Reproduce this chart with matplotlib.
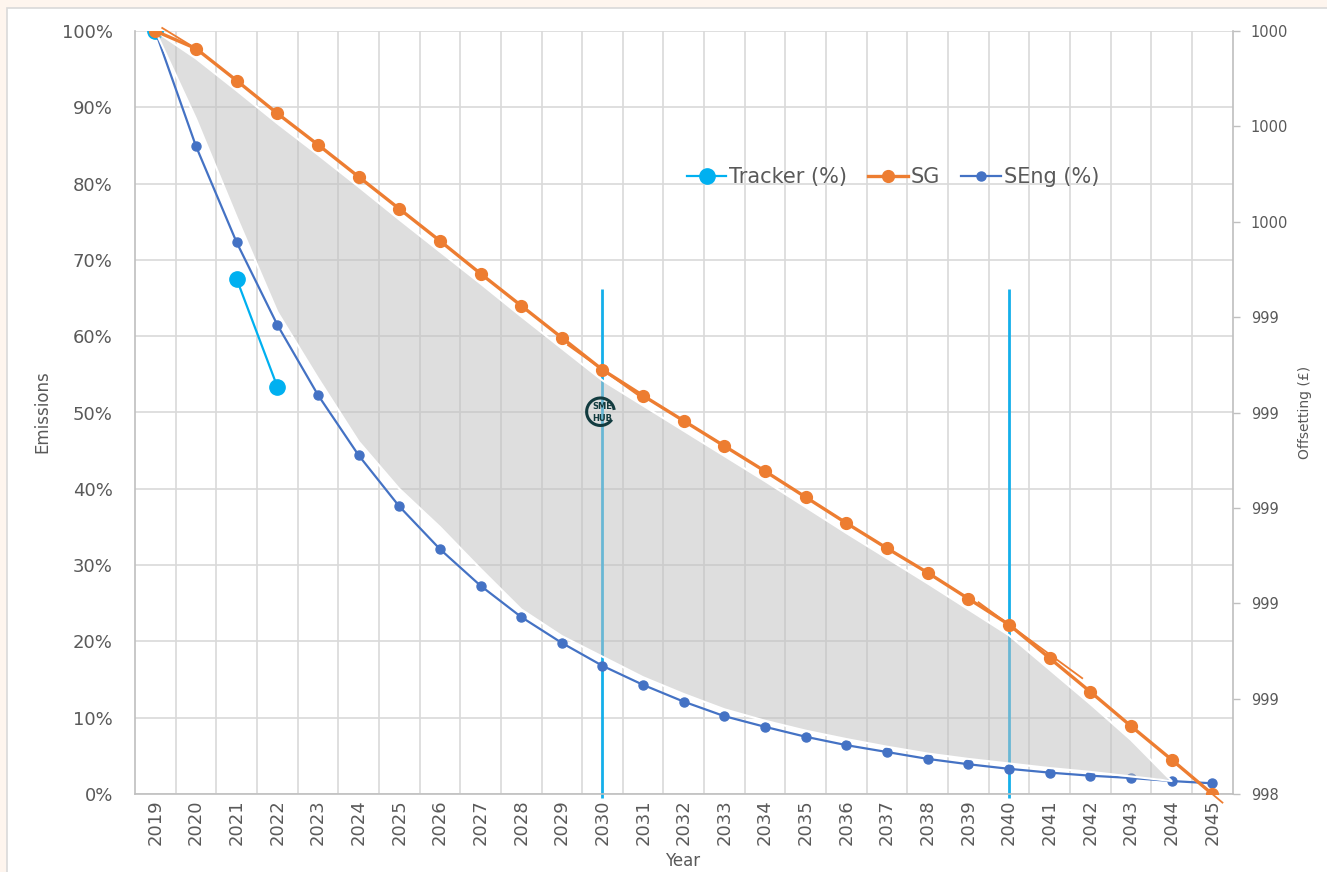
import numpy as np
import matplotlib
matplotlib.use("Agg")
import matplotlib.pyplot as plt
from matplotlib.patches import Rectangle, Arc
from matplotlib.lines import Line2D

# --- data ---
years = list(range(2019, 2046))

sg = [100, 97.7, 93.5, 89.2, 85.1, 80.9, 76.7, 72.5, 68.2, 64.0, 59.8, 55.6,
      52.2, 48.9, 45.6, 42.3, 38.9, 35.5, 32.2, 29.0, 25.6, 22.2, 17.8, 13.4,
      8.9, 4.5, 0.0]

seng = [100, 84.9, 72.3, 61.5, 52.3, 44.4, 37.7, 32.1, 27.3, 23.2, 19.8, 16.8,
        14.3, 12.1, 10.2, 8.8, 7.5, 6.4, 5.5, 4.6, 3.9, 3.3, 2.8, 2.4, 2.1,
        1.7, 1.4]

tracker_years = [2019, 2020, 2021, 2022]
tracker = [100, np.nan, 67.5, 53.4]

# shaded band (2019-2044)
band_years = list(range(2019, 2045))
band_top = [100, 96.4, 92.2, 87.9, 83.8, 79.6, 75.3, 71.1, 66.9, 62.6, 58.4,
            54.2, 50.9, 47.6, 44.3, 41.0, 37.6, 34.2, 30.9, 27.6, 24.2, 20.8,
            16.3, 11.8, 7.1, 1.7]
band_bottom = [100, 88.5, 75.6, 63.2, 54.5, 46.2, 40.0, 35.0, 29.5, 24.2, 20.7,
               18.0, 15.3, 13.1, 11.1, 9.6, 8.3, 7.2, 6.2, 5.3, 4.6, 4.0, 3.4,
               2.9, 2.3, 1.7]

milestones = [2030, 2040]
milestone_top = 66.2

# short SG trend marks: (anchor year, start, end)
trend_marks = [(2020, 2019.17, 2020.0), (2030, 2029.15, 2031.05),
               (2040, 2039.25, 2041.8), (2045, 2044.0, 2045.25)]

right_ticks = ['998', '999', '999', '999', '999', '999', '1000', '1000', '1000']

ORANGE = '#ED7D31'
BLUE = '#4472C4'
CYAN = '#00B0F0'
GRID = '#D9D9D9'
TXT = '#595959'
LOGO = '#123B3F'

W, H = 1327, 872
fig = plt.figure(figsize=(W / 100, H / 100), dpi=100)
fig.patch.set_facecolor('#FEF5EE')
fig.patches.append(Rectangle((7 / W, -0.01), 1.0, 1 - 8 / H + 0.01,
                             transform=fig.transFigure, facecolor='white',
                             edgecolor='#D9D9D9', linewidth=1.2, zorder=-10))

ax = fig.add_axes([135 / W, 1 - 794 / H, (1232.6 - 135) / W, (794 - 31) / H])
ax.set_facecolor('none')

x = np.arange(len(years))
def xpos(yr):
    return np.asarray(yr, dtype=float) - years[0]

ax.set_xlim(-0.5, len(years) - 0.5)
ax.set_ylim(0, 100)

# grid
ax.set_yticks(np.arange(0, 101, 10))
ax.set_yticklabels([f'{v}%' for v in range(0, 101, 10)])
ax.set_xticks(x)
ax.set_xticklabels([str(y) for y in years], rotation=90)
ax.set_xticks(x[:-1] + 0.5, minor=True)
ax.grid(True, which='minor', axis='x', color=GRID, linewidth=1.2, zorder=0)
ax.grid(True, which='major', axis='y', color=GRID, linewidth=1.2, zorder=0)
ax.set_axisbelow(True)
ax.tick_params(axis='both', which='both', length=0)
ax.tick_params(axis='y', pad=16, labelsize=13, labelcolor=TXT)
ax.tick_params(axis='x', pad=4, labelsize=13, labelcolor=TXT)
for s in ['top', 'right']:
    ax.spines[s].set_visible(False)
for s in ['left', 'bottom']:
    ax.spines[s].set_color('#BFBFBF')
    ax.spines[s].set_linewidth(1.2)

# milestone lines
ax.vlines(xpos(milestones), -0.5, milestone_top, color='#14AFEA', linewidth=2,
          zorder=1, clip_on=False)

# series
ax.plot(xpos(tracker_years), tracker, color=CYAN, linewidth=1.6, marker='o',
        markersize=11, zorder=1.5, label='Tracker (%)')
ax.plot(x, seng, color=BLUE, linewidth=1.6, marker='o', markersize=6.5,
        zorder=2, label='SEng (%)')

# shaded band
bx = np.concatenate([xpos(band_years), xpos(band_years)[::-1]])
by = np.concatenate([band_top, band_bottom[::-1]])
ax.fill(bx, by, facecolor='#BFBFBF', alpha=0.5, edgecolor='none', zorder=3)
ax.plot(bx, by, color='white', linewidth=1.5, zorder=3.1)

ax.plot(x, sg, color=ORANGE, linewidth=2.4, marker='o', markersize=8.5,
        zorder=4, label='SG')

# trend marks
slopes = np.gradient(np.array(sg))
for anchor, x0, x1 in trend_marks:
    i = years.index(anchor)
    xs = np.array([x0, x1])
    ys = sg[i] + slopes[i] * (xs - anchor)
    ax.plot(xpos(xs), ys, color=ORANGE, linewidth=1.3, zorder=4.2, clip_on=False)

# logo
lx, ly = xpos(2030) - 0.05, 50.1
ax.add_patch(Arc((lx, ly), 0.68, 3.6, theta1=35, theta2=285, color=LOGO,
                 linewidth=2.2, zorder=6))
ax.text(lx + 0.05, ly + 0.7, 'SME', fontsize=6, fontweight='bold',
        color=LOGO, ha='center', va='center', zorder=6)
ax.text(lx + 0.05, ly - 0.9, 'HUB', fontsize=6, fontweight='bold',
        color=LOGO, ha='center', va='center', zorder=6)

# right axis
ax2 = ax.twinx()
ax2.set_ylim(998, 1000)
ax2.set_yticks(np.linspace(998, 1000, len(right_ticks)))
ax2.set_yticklabels(right_ticks)
ax2.tick_params(axis='y', length=5, width=1, color='#BFBFBF', pad=8,
                labelsize=10.5, labelcolor=TXT)
for s in ['top', 'left', 'bottom']:
    ax2.spines[s].set_visible(False)
ax2.spines['right'].set_color('#BFBFBF')
ax2.spines['right'].set_linewidth(1.2)

# legend
handles = [
    Line2D([], [], color=CYAN, linewidth=1.6, marker='o', markersize=11),
    Line2D([], [], color=ORANGE, linewidth=2.4, marker='o', markersize=8.5),
    Line2D([], [], color=BLUE, linewidth=1.6, marker='o', markersize=6.5),
]
fig.legend(handles, ['Tracker (%)', 'SG', 'SEng (%)'], loc='center',
           bbox_to_anchor=(893 / W, 1 - 177 / H), ncol=3, frameon=False,
           fontsize=15, labelcolor=TXT, handlelength=1.9, handletextpad=0.15,
           columnspacing=1.0)

# axis titles
fig.text(42 / W, 1 - 412 / H, 'Emissions', rotation=90, ha='center',
         va='center', fontsize=12, color=TXT)
fig.text(683 / W, 1 - 861 / H, 'Year', ha='center', va='center',
         fontsize=12, color=TXT)
fig.text(1305 / W, 1 - 412 / H, 'Offsetting (£)', rotation=90, ha='center',
         va='center', fontsize=10, color=TXT)

fig.savefig('out.png', dpi=100, facecolor=fig.get_facecolor())
